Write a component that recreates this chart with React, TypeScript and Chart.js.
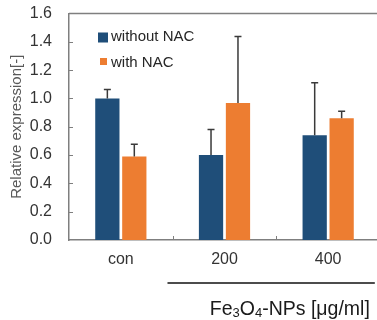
import React, { useEffect, useRef } from "react";
import { Chart, registerables } from "chart.js";

Chart.register(...registerables);

const categories = ["con", "200", "400"];
const seriesLabels = ["without NAC", "with NAC"];
const withoutNAC = [1.0, 0.6, 0.74];
const withoutNACErr = [0.064, 0.18, 0.37];
const withNAC = [0.59, 0.967, 0.86];
const withNACErr = [0.086, 0.47, 0.05];
const seriesColors = ["#1F4E79", "#ED7D31"];
const yTicks = [0, 0.2, 0.4, 0.6, 0.8, 1.0, 1.2, 1.4, 1.6];
const yTitle = "Relative expression[-]";
const xTitleParts: [string, boolean][] = [
  ["Fe", false],
  ["3", true],
  ["O", false],
  ["4", true],
  ["-NPs [μg/ml]", false],
];

const FONT = "'Liberation Sans', Arial, sans-serif";
const AXIS = "#7f7f7f";

const errorBarPlugin = {
  id: "errorBars",
  afterDatasetsDraw(chart: any) {
    const ctx = chart.ctx;
    const y = chart.scales.y;
    chart.data.datasets.forEach((ds: any, di: number) => {
      const meta = chart.getDatasetMeta(di);
      meta.data.forEach((bar: any, i: number) => {
        const v = ds.data[i];
        const e = ds.errors[i];
        const yt = y.getPixelForValue(v + e);
        ctx.save();
        ctx.strokeStyle = "#3a3a3a";
        ctx.lineWidth = 1.5;
        ctx.beginPath();
        ctx.moveTo(bar.x, bar.y);
        ctx.lineTo(bar.x, yt);
        ctx.moveTo(bar.x - 3.5, yt);
        ctx.lineTo(bar.x + 3.5, yt);
        ctx.stroke();
        ctx.restore();
      });
    });
  },
};

const framePlugin = {
  id: "frame",
  afterDraw(chart: any) {
    const ctx = chart.ctx;
    const a = chart.chartArea;
    const x = chart.scales.x;
    const y = chart.scales.y;
    ctx.save();
    ctx.strokeStyle = AXIS;
    ctx.lineWidth = 1.5;
    // top border
    ctx.beginPath();
    ctx.moveTo(a.left, a.top);
    ctx.lineTo(a.right + 10, a.top);
    ctx.stroke();
    // inward y ticks
    ctx.lineWidth = 1;
    ctx.beginPath();
    yTicks.forEach((t) => {
      if (t === 0 || t === 1.6) return;
      const py = Math.round(y.getPixelForValue(t)) + 0.5;
      ctx.moveTo(a.left, py);
      ctx.lineTo(a.left + 4, py);
    });
    // inward x ticks at category boundaries
    for (let i = 1; i < categories.length; i++) {
      const px = Math.round((x.getPixelForValue(i - 1) + x.getPixelForValue(i)) / 2) + 0.5;
      ctx.moveTo(px, a.bottom);
      ctx.lineTo(px, a.bottom - 4);
    }
    ctx.stroke();

    // legend
    ctx.font = `15px ${FONT}`;
    ctx.textBaseline = "middle";
    ctx.textAlign = "left";
    const lx = a.left + 29;
    const rows = [a.top + 23.5, a.top + 49];
    seriesLabels.forEach((lab, i) => {
      ctx.fillStyle = seriesColors[i];
      ctx.fillRect(lx + (i === 0 ? 0 : 2), rows[i] - 4.5, i === 0 ? 10 : 7, i === 0 ? 10 : 7);
      ctx.fillStyle = "#262626";
      ctx.fillText(lab, lx + 13, rows[i]);
    });

    // x group line and title
    const cw = x.getPixelForValue(1) - x.getPixelForValue(0);
    const x0 = x.getPixelForValue(1) - 0.55 * cw;
    const x1 = x.getPixelForValue(2) + 0.45 * cw;
    ctx.strokeStyle = "#111";
    ctx.lineWidth = 1.5;
    ctx.beginPath();
    ctx.moveTo(x0, 283);
    ctx.lineTo(x1, 283);
    ctx.stroke();

    const big = `19.5px ${FONT}`;
    const small = `13px ${FONT}`;
    let total = 0;
    xTitleParts.forEach(([s, sub]) => {
      ctx.font = sub ? small : big;
      total += ctx.measureText(s).width;
    });
    const center = (x.getPixelForValue(1) + x.getPixelForValue(2)) / 2 + 0.13 * cw;
    let cx = center - total / 2;
    ctx.textBaseline = "alphabetic";
    ctx.fillStyle = "#1a1a1a";
    xTitleParts.forEach(([s, sub]) => {
      ctx.font = sub ? small : big;
      ctx.fillText(s, cx, sub ? 317 : 315);
      cx += ctx.measureText(s).width;
    });
    ctx.restore();
  },
};

export default function App() {
  const ref = useRef<HTMLCanvasElement>(null);
  useEffect(() => {
    if (!ref.current) return;
    const chart = new Chart(ref.current, {
      type: "bar",
      data: {
        labels: categories,
        datasets: [
          {
            label: seriesLabels[0],
            data: withoutNAC,
            errors: withoutNACErr,
            backgroundColor: seriesColors[0],
            barPercentage: 0.9,
            categoryPercentage: 0.52,
          } as any,
          {
            label: seriesLabels[1],
            data: withNAC,
            errors: withNACErr,
            backgroundColor: seriesColors[1],
            barPercentage: 0.9,
            categoryPercentage: 0.52,
          } as any,
        ],
      },
      options: {
        animation: false,
        responsive: false,
        devicePixelRatio: 1,
        layout: { padding: { top: 13.5, right: 4, left: 0, bottom: 0 } },
        plugins: { legend: { display: false }, tooltip: { enabled: false } },
        scales: {
          x: {
            grid: { display: false, drawTicks: false },
            border: { display: true, color: AXIS, width: 1.5 },
            ticks: { font: { family: FONT, size: 16 }, color: "#333", padding: 10 },
            afterFit: (s: any) => {
              s.height = 80;
              s.paddingLeft = 0;
              s.paddingRight = 0;
            },
          },
          y: {
            min: 0,
            max: 1.6,
            afterBuildTicks: (s: any) => {
              s.ticks = yTicks.map((v) => ({ value: v }));
            },
            grid: { display: false, drawTicks: false },
            border: { display: true, color: AXIS, width: 1.5 },
            ticks: {
              font: { family: FONT, size: 16 },
              color: "#333",
              padding: 17,
              callback: (v: any) => Number(v).toFixed(1),
            },
            title: {
              display: true,
              text: yTitle,
              font: { family: FONT, size: 15 },
              color: "#595959",
              padding: { top: 8, bottom: 0 },
            },
            afterFit: (s: any) => {
              s.width = 69;
              s.paddingTop = 0;
              s.paddingBottom = 0;
            },
          },
        },
      },
      plugins: [errorBarPlugin, framePlugin],
    });
    return () => chart.destroy();
  }, []);
  return (
    <div style={{ position: "absolute", left: 0, top: 0, width: 377, height: 320, overflow: "hidden", background: "#fff" }}>
      <canvas ref={ref} width={384} height={320} style={{ display: "block" }} />
    </div>
  );
}
